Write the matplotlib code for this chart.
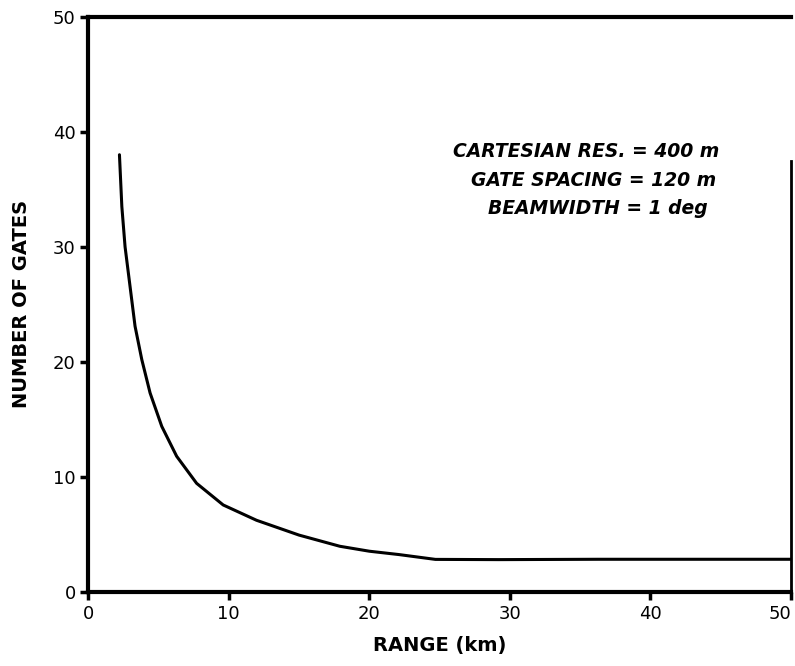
import matplotlib
matplotlib.use("Agg")
import matplotlib.pyplot as plt

# values
range_km = [2.22, 2.39, 2.62, 2.98, 3.33, 3.81, 4.40, 5.23, 6.29, 7.71, 9.60,
            11.97, 15.0, 17.9, 20.0, 22.1, 24.7, 29.2, 36.3, 50.0]
num_gates = [38.0, 33.5, 30.0, 26.5, 23.1, 20.2, 17.3, 14.4, 11.8, 9.45, 7.57,
             6.24, 4.95, 3.98, 3.55, 3.26, 2.84, 2.82, 2.85, 2.85]

ticks = [0, 10, 20, 30, 40, 50]
notes = ["CARTESIAN RES. = 400 m", "GATE SPACING = 120 m", "BEAMWIDTH = 1 deg"]

fig = plt.figure(figsize=(7.95, 6.66), dpi=100)
ax = fig.add_axes([0.111, 0.111, 0.884, 0.864])

ax.plot(range_km, num_gates, color="black", lw=2.2, solid_capstyle="round",
        solid_joinstyle="round")

ax.set_xlim(0, 50)
ax.set_ylim(0, 50)
ax.set_xticks(ticks)
ax.set_yticks(ticks)
ax.tick_params(direction="out", length=6, width=2.5, labelsize=13, pad=3)
# last x label sits at the right edge, keep it inside the picture
ax.get_xticklabels()[-1].set_horizontalalignment("right")

for s in ["left", "bottom", "top"]:
    ax.spines[s].set_linewidth(3)
ax.spines["right"].set_linewidth(2)
ax.spines["right"].set_bounds(0, 37.5)

ax.set_xlabel("RANGE (km)", fontsize=14, fontweight="bold", labelpad=10)
ax.set_ylabel("NUMBER OF GATES", fontsize=14, fontweight="bold", labelpad=16)

# annotation block, roughly right aligned as in the original
xs = [44.9, 44.7, 44.1]
ys = [38.3, 35.8, 33.3]
for x, y, t in zip(xs, ys, notes):
    ax.text(x, y, t, ha="right", va="center", fontsize=13.5, fontweight="bold",
            style="italic")

fig.savefig("out.png", dpi=100)
